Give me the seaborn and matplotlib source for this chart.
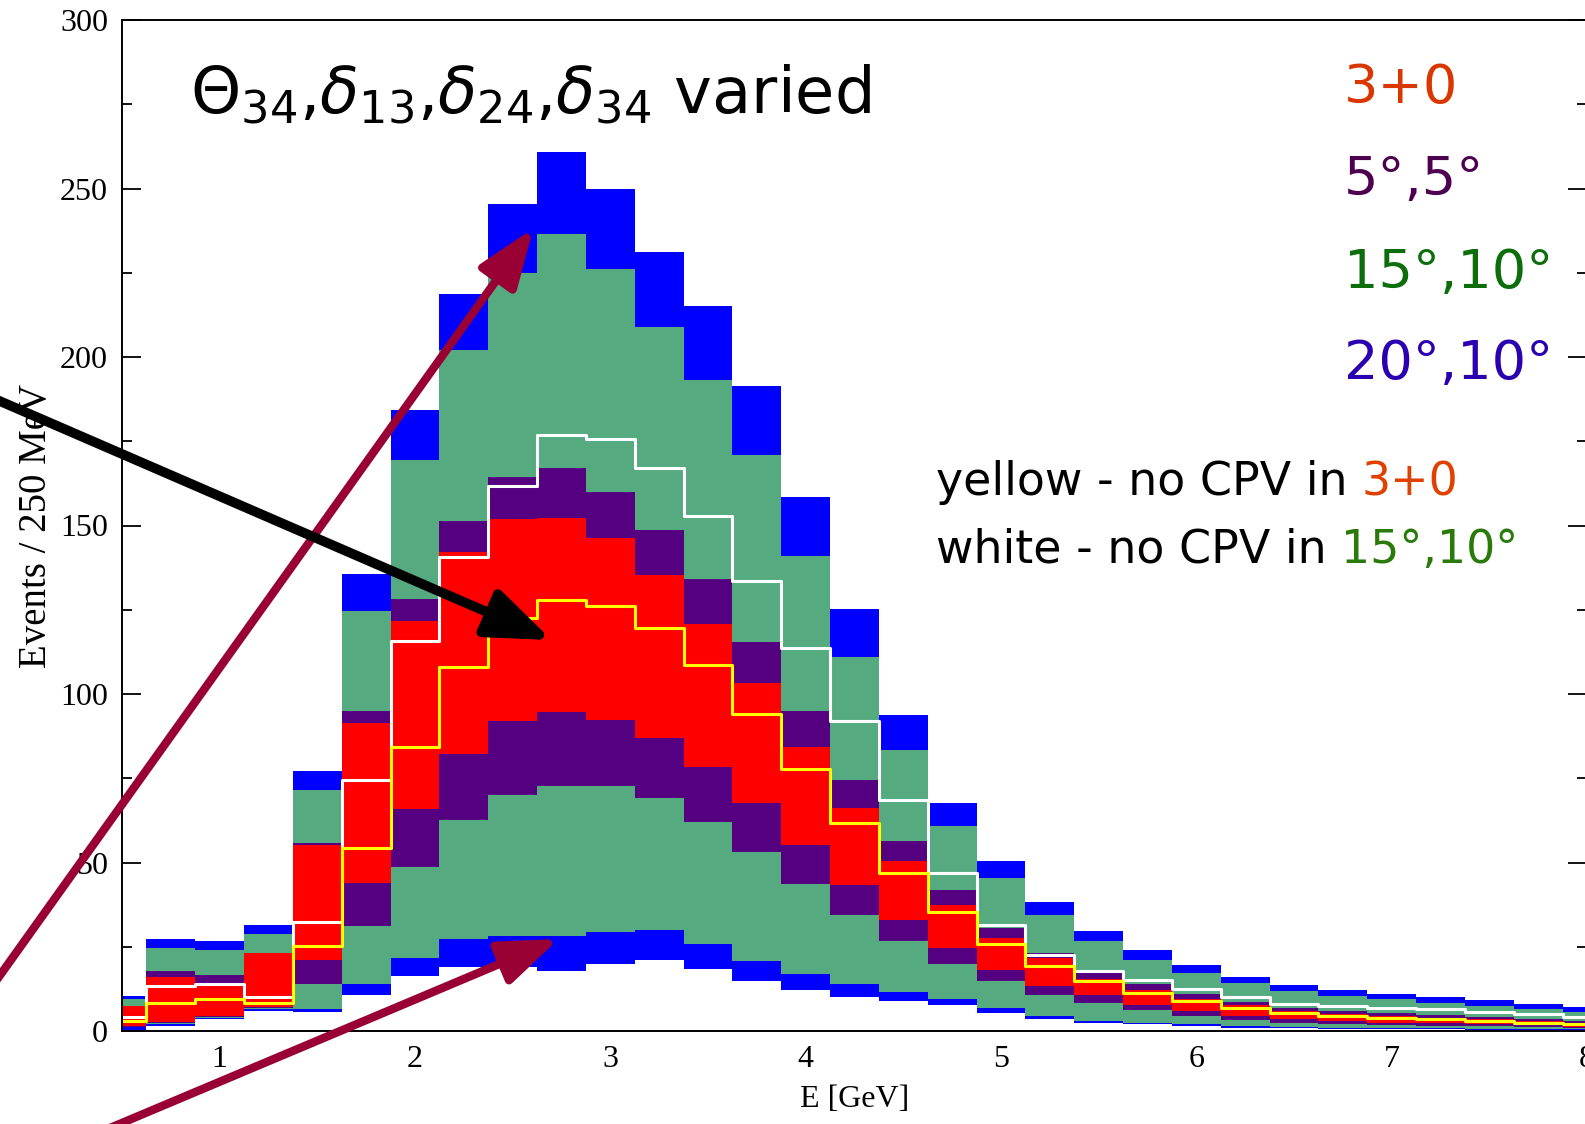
import numpy as np
import pandas as pd
import matplotlib
matplotlib.use("Agg")
import matplotlib.pyplot as plt
from matplotlib.ticker import MultipleLocator
import seaborn as sns

# Bin centres (GeV), 250 MeV wide bins
energy = [round(0.5 + 0.25 * i, 3) for i in range(31)]
edges = [round(0.375 + 0.25 * i, 3) for i in range(32)]

# Envelope of each scenario: upper and lower edges of the band
blue_hi = [10.3, 27.3, 26.8, 31.6, 77.2, 135.5, 184.2, 218.8, 245.3, 260.7, 250.0, 231.3, 215.1,
           191.4, 158.5, 125.2, 93.9, 67.8, 50.3, 38.2, 29.6, 24.0, 19.6, 16.1, 13.6, 12.2,
           10.9, 10.1, 9.1, 8.1, 7.2]
green_hi = [9.5, 24.7, 24.0, 28.9, 71.5, 124.7, 169.4, 202.1, 224.9, 236.4, 226.1, 209.0, 193.2,
            170.9, 141.0, 111.1, 83.4, 60.8, 45.4, 34.5, 26.6, 21.2, 17.1, 14.1, 11.9, 10.4,
            9.4, 8.4, 7.4, 6.6, 5.7]
purple_hi = [7.5, 17.7, 16.5, 23.2, 55.9, 95.0, 128.2, 151.3, 164.3, 167.0, 160.0, 148.7, 134.0,
             115.5, 95.0, 74.5, 56.4, 41.9, 30.6, 23.2, 17.5, 13.8, 10.9, 8.6, 6.9, 5.9,
             5.2, 4.8, 4.3, 3.7, 3.0]
red_hi = [7.3, 16.1, 14.3, 23.0, 55.2, 91.4, 121.6, 142.0, 152.0, 152.3, 146.2, 135.3, 120.8,
          103.4, 84.4, 66.3, 50.3, 37.5, 27.6, 21.7, 15.5, 12.3, 9.6, 7.6, 5.9, 4.9,
          4.5, 3.9, 3.5, 3.0, 2.5]
red_lo = [1.4, 2.7, 4.4, 7.0, 21.2, 43.9, 65.8, 82.3, 91.9, 94.7, 92.3, 86.9, 78.3,
          67.6, 55.2, 43.4, 33.0, 24.7, 18.0, 13.3, 10.8, 7.6, 5.9, 4.5, 3.5, 3.0,
          2.5, 2.3, 2.0, 1.7, 1.3]
purple_lo = [1.3, 2.3, 4.2, 6.8, 13.8, 31.1, 48.6, 62.6, 70.1, 72.6, 72.7, 69.0, 62.1,
             53.0, 43.6, 34.5, 26.6, 20.0, 14.8, 10.8, 8.4, 6.2, 4.5, 3.3, 2.5, 2.0,
             1.8, 1.6, 1.5, 1.2, 0.9]
green_lo = [1.2, 2.0, 4.0, 6.6, 6.4, 13.8, 21.7, 27.3, 28.3, 28.1, 29.3, 30.1, 25.9,
            20.9, 17.0, 13.8, 11.6, 9.4, 6.9, 4.4, 3.0, 2.5, 2.0, 1.5, 1.2, 1.0,
            0.9, 0.8, 0.7, 0.6, 0.5]
blue_lo = [0.3, 1.5, 3.7, 6.0, 5.6, 10.8, 16.3, 19.0, 19.0, 17.8, 20.0, 21.2, 18.4,
           14.8, 12.3, 10.2, 8.9, 7.7, 5.4, 3.6, 2.3, 2.0, 1.5, 1.0, 0.9, 0.7,
           0.6, 0.5, 0.4, 0.3, 0.2]

# Reference spectra without CP violation
yellow_line = [3.0, 8.4, 9.4, 8.2, 25.1, 54.4, 84.4, 107.9, 122.5, 127.9, 126.2, 119.7, 108.6,
               94.0, 77.6, 61.6, 47.0, 35.2, 25.9, 19.2, 14.8, 11.3, 8.9, 6.9, 5.4, 4.5,
               3.9, 3.5, 3.0, 2.5, 2.0]
white_line = [4.3, 13.5, 13.8, 10.1, 32.2, 74.5, 115.8, 140.8, 161.8, 176.9, 175.7, 167.0, 152.7,
              133.5, 113.6, 92.1, 68.5, 46.8, 31.4, 22.5, 17.9, 15.1, 12.4, 10.2, 8.1, 7.4,
              6.9, 6.4, 5.7, 4.9, 4.2]

scenario_labels = ["3+0", "5°,5°", "15°,10°", "20°,10°"]
scenario_colors = ["#d93600", "#4e0050", "#0b6e0b", "#2a00b0"]

BLUE, GREEN, PURPLE, RED = "#0000ff", "#55aa80", "#550080", "#ff0000"

spectra = pd.DataFrame({
    "E": energy,
    "blue_hi": blue_hi, "green_hi": green_hi, "purple_hi": purple_hi, "red_hi": red_hi,
    "red_lo": red_lo, "purple_lo": purple_lo, "green_lo": green_lo, "blue_lo": blue_lo,
    "yellow": yellow_line, "white": white_line,
})

sns.set_style("ticks")
plt.rcParams.update({
    "text.color": "black",
    "axes.labelcolor": "black",
    "xtick.color": "black",
    "ytick.color": "black",
    "axes.edgecolor": "black",
})

fig = plt.figure(figsize=(15.85, 11.24), dpi=100)
ax = fig.add_axes([122 / 1585, 1 - 1031 / 1124, 1465 / 1585, 1011 / 1124])


def layer(column, color, z):
    sns.histplot(data=spectra, x="E", weights=column, bins=edges, element="step", fill=True,
                 color=color, alpha=1, linewidth=0, ax=ax, zorder=z)


# Nested bands: upper envelopes from the outside in, then lower envelopes
layer("blue_hi", BLUE, 1.00)
layer("green_hi", GREEN, 1.01)
layer("purple_hi", PURPLE, 1.02)
layer("red_hi", RED, 1.03)
layer("red_lo", PURPLE, 1.04)
layer("purple_lo", GREEN, 1.05)
layer("green_lo", BLUE, 1.06)
layer("blue_lo", "white", 1.07)

sns.histplot(data=spectra, x="E", weights="white", bins=edges, element="step", fill=False,
             color="white", linewidth=2.2, ax=ax, zorder=3)
sns.histplot(data=spectra, x="E", weights="yellow", bins=edges, element="step", fill=False,
             color="#ffff00", linewidth=2.2, ax=ax, zorder=3.1)

ax.set_xlim(0.5, 8.0)
ax.set_ylim(0, 300)

serif = "Liberation Serif"
ax.set_xlabel("E [GeV]", fontsize=23, family=serif, labelpad=8, color="black")
ax.set_ylabel("Events / 250 MeV", fontsize=28, family=serif, labelpad=4, color="black")
ax.xaxis.set_major_locator(MultipleLocator(1))
ax.xaxis.set_minor_locator(MultipleLocator(0.2))
ax.yaxis.set_major_locator(MultipleLocator(50))
ax.yaxis.set_minor_locator(MultipleLocator(25))
ax.tick_params(which="both", direction="in", left=True, right=True, bottom=True, top=False,
               colors="black", width=1.3)
ax.tick_params(which="major", length=14, labelsize=23, pad=10)
ax.tick_params(which="minor", length=7)
for lab in ax.get_xticklabels() + ax.get_yticklabels():
    lab.set_family(serif)
for side in ["left", "bottom", "top"]:
    ax.spines[side].set_color("black")
    ax.spines[side].set_linewidth(1.4)
    ax.spines[side].set_zorder(5)
ax.spines["right"].set_visible(False)

sans = "DejaVu Sans"
ax.text(0.85, 272.5,
        r"$\Theta_{34}$,$\delta_{13}$,$\delta_{24}$,$\delta_{34}$ varied",
        fontsize=46, family=sans, color="black", va="baseline", ha="left", zorder=6)

legend_y = [275.5, 248.0, 220.5, 193.5]
for text, color, y in zip(scenario_labels, scenario_colors, legend_y):
    ax.text(6.756, y, text, color=color, fontsize=39, family=sans,
            va="baseline", ha="left", zorder=6)

t1 = ax.text(4.668, 159.0, "yellow - no CPV in", fontsize=33, family=sans, color="black",
             va="baseline", ha="left", zorder=6)
ax.annotate("3+0", xy=(1, 159.0), xycoords=(t1, "data"), xytext=(10, 0),
            textcoords="offset points", color="#e04000", fontsize=33, family=sans,
            va="baseline", ha="left", zorder=6)
t2 = ax.text(4.668, 139.0, "white - no CPV in", fontsize=33, family=sans, color="black",
             va="baseline", ha="left", zorder=6)
ax.annotate("15°,10°", xy=(1, 139.0), xycoords=(t2, "data"), xytext=(10, 0),
            textcoords="offset points", color="#2a7a0a", fontsize=33, family=sans,
            va="baseline", ha="left", zorder=6)

# Pointer arrows
crimson = "#990033"
head_c = "-|>,head_length=1.2,head_width=0.45"
head_k = "-|>,head_length=1.3,head_width=0.5"
ax.annotate("", xy=(2.606, 238.2), xytext=(-0.28, 3.9), annotation_clip=False,
            arrowprops=dict(arrowstyle=head_c, mutation_scale=30, lw=6, color=crimson,
                            shrinkA=0, shrinkB=0, clip_on=False), zorder=7)
ax.annotate("", xy=(2.736, 27.3), xytext=(0.29, -32.4), annotation_clip=False,
            arrowprops=dict(arrowstyle=head_c, mutation_scale=30, lw=6, color=crimson,
                            shrinkA=0, shrinkB=0, clip_on=False), zorder=7)
ax.annotate("", xy=(2.70, 116.0), xytext=(-0.28, 190.8), annotation_clip=False,
            arrowprops=dict(arrowstyle=head_k, mutation_scale=30, lw=7, color="black",
                            shrinkA=0, shrinkB=0, clip_on=False), zorder=7)

fig.savefig("out.png", dpi=100, facecolor="white")
